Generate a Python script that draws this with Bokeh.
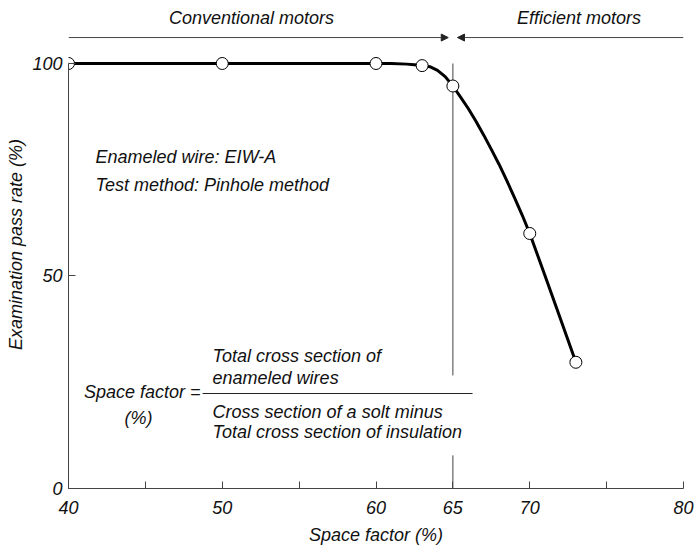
from bokeh.plotting import figure
from bokeh.models import Range1d, FixedTicker, Arrow, NormalHead
from bokeh.core.properties import value
from bokeh.embed import file_html
from bokeh.resources import INLINE

# ---- data ----
pt_x = [40, 50, 60, 63, 65, 70, 73]
pt_y = [100, 100, 100, 99.5, 94.7, 60.0, 29.7]

# traced curve
curve_x = [40, 50, 60, 61, 62, 62.5, 63, 63.5, 64, 64.5, 65, 65.5, 66, 66.5, 67, 67.5,
           68, 68.5, 69, 69.5, 70, 71, 72, 73]
curve_y = [100, 100, 100, 100, 99.85, 99.7, 99.5, 99.25, 98.4, 96.9, 94.7, 92.1, 89.4, 86.4,
           83.2, 79.8, 76.3, 72.5, 68.5, 64.4, 60.0, 50.0, 39.9, 29.7]

x_ticks = [40, 45, 50, 55, 60, 65, 70, 75, 80]
x_tick_labels = ["40", "", "50", "", "60", "65", "70", "", "80"]
y_ticks = [0, 50, 100]

region_edges = [40, 65, 80]
region_labels = ["Conventional motors", "Efficient motors"]

note_lines = ["Enameled wire: EIW-A", "Test method: Pinhole method"]
formula_lhs = ["Space factor =", "(%)"]
formula_num = ["Total cross section of", "enameled wires"]
formula_den = ["Cross section of a solt minus", "Total cross section of insulation"]

FONT = "Liberation Sans"
FS = "18px"
AX = "#444444"

p = figure(width=697, height=549, output_backend="svg", toolbar_location=None,
           x_range=Range1d(40, 80), y_range=Range1d(0, 114.82),
           min_border_left=68, min_border_right=14, min_border_top=0, min_border_bottom=61)
p.outline_line_color = None
p.grid.visible = False
p.background_fill_color = "white"
p.border_fill_color = "white"

# axes
for ax in (p.xaxis[0], p.yaxis[0]):
    ax.axis_line_color = AX
    ax.axis_line_width = 1
    ax.major_tick_line_color = AX
    ax.major_tick_in = 7
    ax.major_tick_out = 0
    ax.minor_tick_line_color = None
    ax.major_label_text_font = FONT
    ax.major_label_text_font_size = FS
    ax.major_label_text_font_style = "italic"
    ax.major_label_text_color = "#111111"
    ax.axis_label_text_font = FONT
    ax.axis_label_text_font_size = FS
    ax.axis_label_text_font_style = "italic"
    ax.axis_label_text_color = "#111111"

p.xaxis.ticker = FixedTicker(ticks=x_ticks)
p.xaxis.major_label_overrides = {t: l for t, l in zip(x_ticks, x_tick_labels)}
p.xaxis.axis_label = "Space factor (%)"
p.xaxis.major_label_standoff = 12
p.xaxis.axis_label_standoff = 8

p.yaxis.ticker = FixedTicker(ticks=y_ticks)
p.yaxis.bounds = (y_ticks[0], y_ticks[-1])
p.yaxis.axis_label = "Examination pass rate (%)"
p.yaxis.major_label_standoff = 6
p.yaxis.axis_label_standoff = 3

# vertical boundary line at 65 (interrupted by the formula)
b = region_edges[1]
p.segment(x0=[b, b], y0=[y_ticks[-1], 0], x1=[b, b], y1=[26.6, 7.8],
          line_color=AX, line_width=1)

# region arrows on top
ay = 106.1
p.add_layout(Arrow(end=NormalHead(size=7, fill_color="#222222", line_color="#222222"),
                   x_start=region_edges[0], y_start=ay, x_end=region_edges[1] - 0.3, y_end=ay,
                   line_color=AX, line_width=1))
p.add_layout(Arrow(end=NormalHead(size=7, fill_color="#222222", line_color="#222222"),
                   x_start=region_edges[2], y_start=ay, x_end=region_edges[1] + 0.3, y_end=ay,
                   line_color=AX, line_width=1))
p.text(x=[(region_edges[0] + region_edges[1]) / 2 - 0.6, (region_edges[1] + region_edges[2]) / 2 + 0.7],
       y=[110.6, 110.6], text=region_labels,
       text_font=value(FONT), text_font_size=FS, text_font_style="italic",
       text_align="center", text_baseline="middle", text_color="#111111")

# curve and points
p.line(curve_x, curve_y, line_color="black", line_width=3, line_join="round")
p.scatter(pt_x, pt_y, size=12, fill_color="white", line_color="black", line_width=1)

# notes
p.text(x=[41.76, 41.76], y=[77.9, 71.5], text=note_lines,
       text_font=value(FONT), text_font_size=FS, text_font_style="italic",
       text_align="left", text_baseline="middle", text_color="#111111")

# formula
p.text(x=[48.59], y=[22.6], text=[formula_lhs[0]],
       text_font=value(FONT), text_font_size=FS, text_font_style="italic",
       text_align="right", text_baseline="middle", text_color="#111111")
p.text(x=[44.55], y=[16.5], text=[formula_lhs[1]],
       text_font=value(FONT), text_font_size=FS, text_font_style="italic",
       text_align="center", text_baseline="middle", text_color="#111111")
p.text(x=[49.37] * 4, y=[31.06, 25.9, 18.1, 13.2], text=formula_num + formula_den,
       text_font=value(FONT), text_font_size=FS, text_font_style="italic",
       text_align="left", text_baseline="middle", text_color="#111111")
p.segment(x0=[48.72], y0=[22.35], x1=[66.28], y1=[22.35], line_color="#222222", line_width=1)

open("out.html", "w").write(file_html(p, INLINE))
